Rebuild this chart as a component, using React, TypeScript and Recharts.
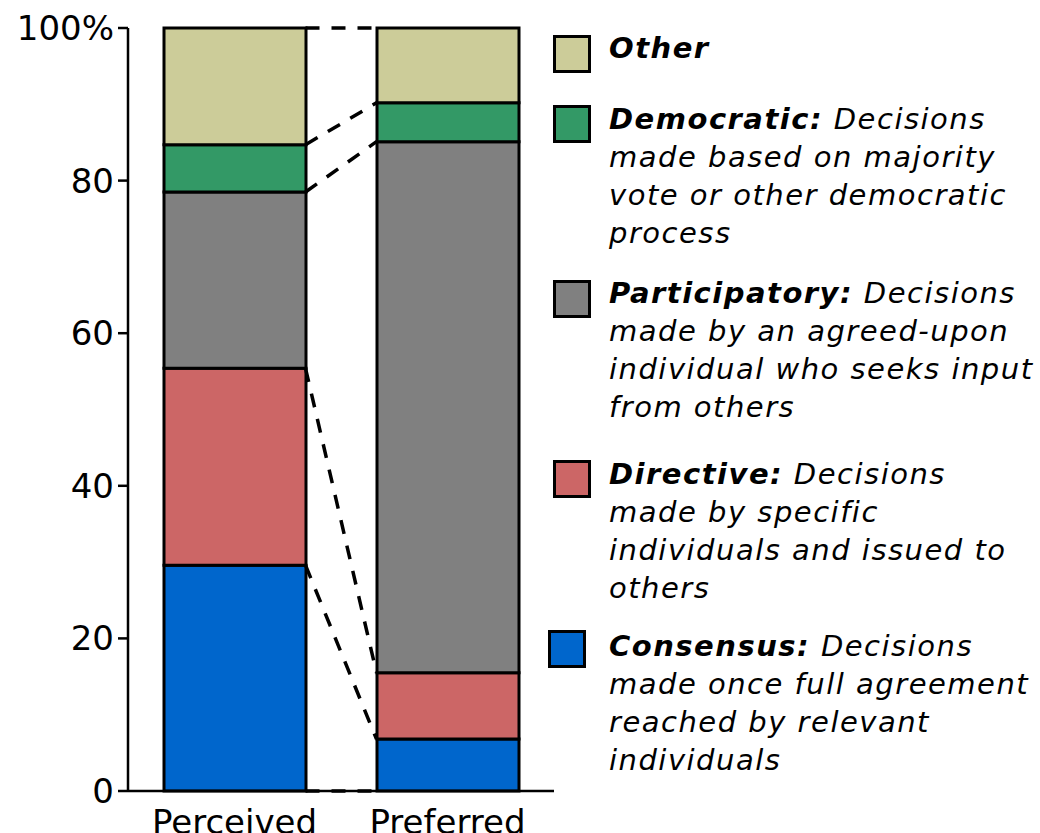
import React from 'react';
import { ComposedChart, Bar, XAxis, YAxis, ReferenceLine } from 'recharts';

const categories = ['Perceived', 'Preferred'];
const seriesKeys = ['consensus', 'directive', 'participatory', 'democratic', 'other'];
const consensus = [29.6, 6.8];
const directive = [25.8, 8.7];
const participatory = [23.1, 69.6];
const democratic = [6.2, 5.1];
const other = [15.3, 9.8];
const yTicks = [0, 20, 40, 60, 80, 100];

const colors: Record<string, string> = {
  consensus: '#0066CC',
  directive: '#CC6666',
  participatory: '#808080',
  democratic: '#339966',
  other: '#CCCC99',
};

const legendItems = [
  { key: 'other', label: 'Other', lines: [] as string[] },
  { key: 'democratic', label: 'Democratic:', lines: ['Decisions', 'made based on majority', 'vote or other democratic', 'process'] },
  { key: 'participatory', label: 'Participatory:', lines: ['Decisions', 'made by an agreed-upon', 'individual who seeks input', 'from others'] },
  { key: 'directive', label: 'Directive:', lines: ['Decisions', 'made by specific', 'individuals and issued to', 'others'] },
  { key: 'consensus', label: 'Consensus:', lines: ['Decisions', 'made once full agreement', 'reached by relevant', 'individuals'] },
];
const legendTextTop = [29, 100, 274, 455, 627];
const legendBoxTop = [35, 105, 280, 460, 630];
const legendBoxLeft = [553, 553, 553, 553, 548];

const seriesValues: Record<string, number[]> = { consensus, directive, participatory, democratic, other };

const data = categories.map((name, i) => {
  const row: Record<string, number | string> = { pos: i + 1, name };
  seriesKeys.forEach((k) => { row[k] = seriesValues[k][i]; });
  return row;
});

// cumulative boundaries for connectors
const cumulative = (i: number) => {
  const out = [0];
  let s = 0;
  seriesKeys.forEach((k) => { s += seriesValues[k][i]; out.push(s); });
  return out;
};
const cumA = cumulative(0);
const cumB = cumulative(1);

const W = 1040;
const H = 833;
const M_LEFT = 128;
const M_RIGHT = 486;
const M_TOP = 28;
const M_BOTTOM = 42;
const BAR_SIZE = 142;
const PLOT_W = W - M_LEFT - M_RIGHT;
const X_DOMAIN: [number, number] = [0.5, 2.5];
const halfBar = (BAR_SIZE / 2) / (PLOT_W / (X_DOMAIN[1] - X_DOMAIN[0]));

const FONT = '"DejaVu Sans", Verdana, sans-serif';

export default function App() {
  return (
    <div style={{ position: 'absolute', left: 0, top: 0, width: W, height: H, background: '#fff', fontFamily: FONT }}>
      <ComposedChart width={W} height={H} data={data} margin={{ top: M_TOP, right: M_RIGHT, bottom: 0, left: 0 }}>
        <XAxis
          dataKey="pos"
          type="number"
          domain={X_DOMAIN}
          ticks={[1, 2]}
          tickFormatter={(v: number) => categories[v - 1]}
          height={M_BOTTOM}
          tickLine={false}
          tickMargin={13}
          axisLine={{ stroke: '#000', strokeWidth: 2.5 }}
          tick={{ fill: '#000', fontSize: 34, fontFamily: FONT }}
          interval={0}
        />
        <YAxis
          type="number"
          domain={[0, 100]}
          ticks={yTicks}
          width={M_LEFT}
          tickFormatter={(v: number) => (v === 100 ? '100%' : String(v))}
          tickLine={{ stroke: '#000', strokeWidth: 2.5 }}
          tickSize={10}
          tickMargin={4}
          axisLine={{ stroke: '#000', strokeWidth: 2.5 }}
          tick={{ fill: '#000', fontSize: 34, fontFamily: FONT }}
          interval={0}
        />
        {seriesKeys.map((k) => (
          <Bar
            key={k}
            dataKey={k}
            stackId="a"
            fill={colors[k]}
            stroke="#000"
            strokeWidth={3}
            barSize={BAR_SIZE}
            isAnimationActive={false}
          />
        ))}
        {cumA.map((c, i) => (
          <ReferenceLine
            key={'conn' + i}
            segment={[{ x: 1 + halfBar, y: c }, { x: 2 - halfBar, y: cumB[i] }]}
            stroke="#000"
            strokeWidth={3.5}
            strokeDasharray="14 12"
            ifOverflow="visible"
          />
        ))}
      </ComposedChart>
      {legendItems.map((it, i) => (
        <React.Fragment key={it.key}>
          <div
            style={{
              position: 'absolute',
              left: legendBoxLeft[i],
              top: legendBoxTop[i],
              width: 32,
              height: 32,
              border: '3px solid #000',
              background: colors[it.key],
            }}
          />
          <div
            style={{
              position: 'absolute',
              left: 609,
              top: legendTextTop[i],
              fontSize: 29,
              lineHeight: '38px',
              letterSpacing: 1.5,
              fontStyle: 'italic',
              whiteSpace: 'nowrap',
              color: '#000',
              fontFamily: FONT,
            }}
          >
            <div>
              <span style={{ fontWeight: 'bold' }}>{it.label}</span>
              {it.lines.length > 0 ? ' ' + it.lines[0] : ''}
            </div>
            {it.lines.slice(1).map((l, j) => (
              <div key={j}>{l}</div>
            ))}
          </div>
        </React.Fragment>
      ))}
    </div>
  );
}
